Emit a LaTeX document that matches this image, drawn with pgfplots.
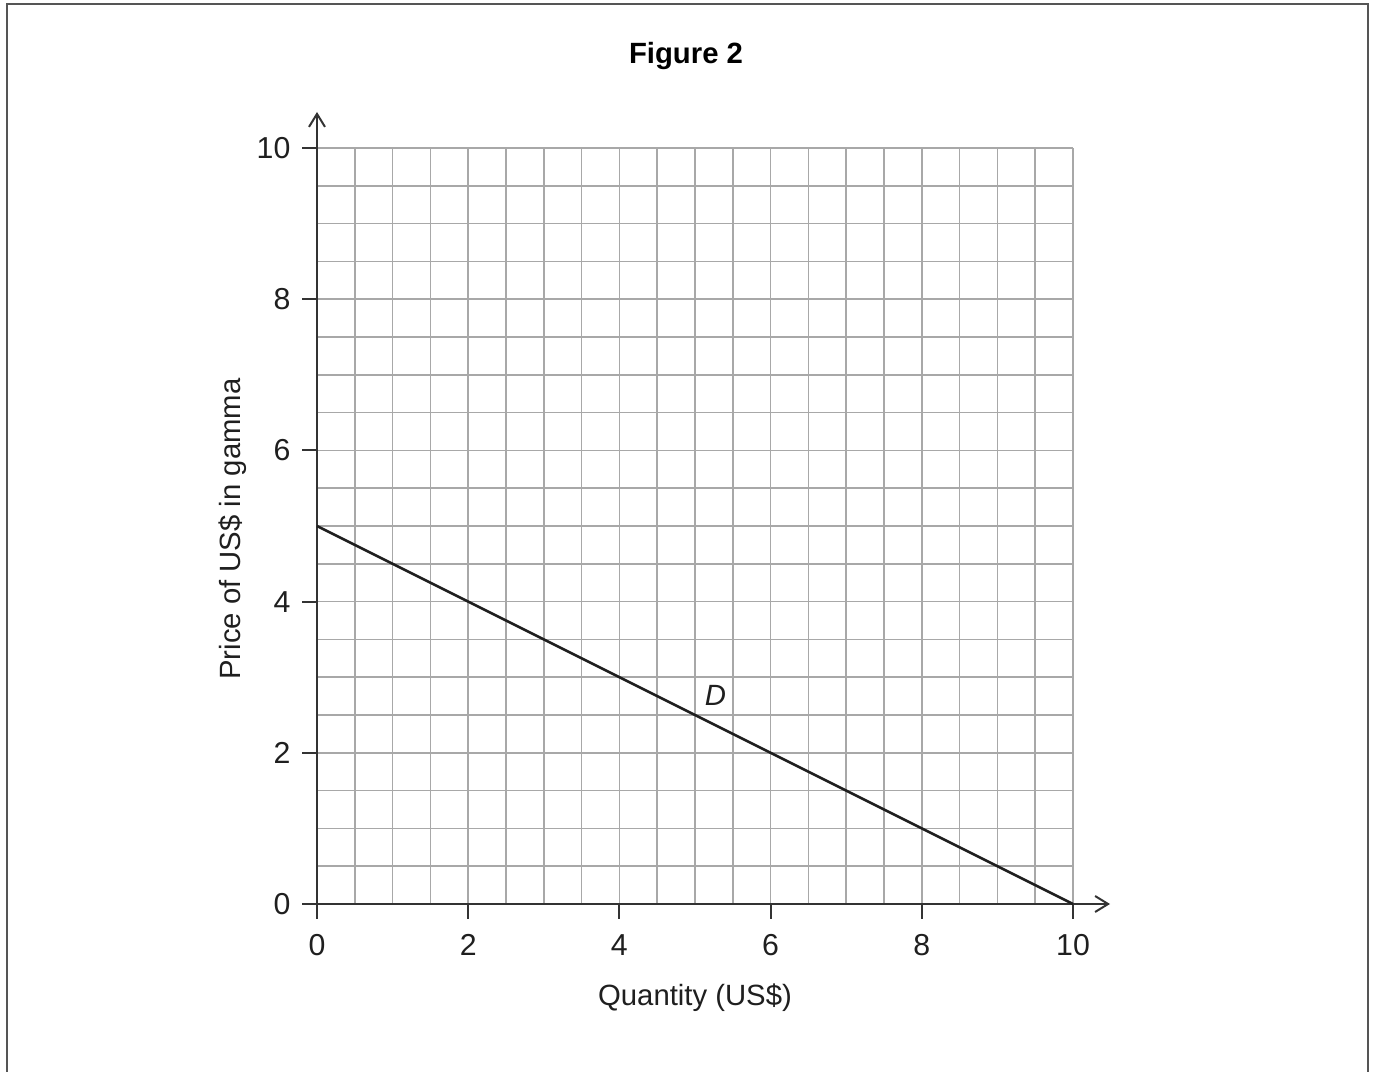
\documentclass[border=0pt]{standalone}
\usepackage{fontspec}
\setmainfont{Liberation Sans}
\usepackage{pgfplots}
\pgfplotsset{compat=1.18}
\usetikzlibrary{arrows.meta}
\definecolor{gridgray}{HTML}{A8A8A8}
\definecolor{axisgray}{HTML}{333333}
\definecolor{framegray}{HTML}{555555}
\newcommand{\lblfont}{\fontsize{14.7}{17}\selectfont}
\begin{document}
\begin{tikzpicture}
\useasboundingbox (0bp,0bp) rectangle (687.5bp,536bp);
\draw[framegray, line width=1bp] (3.5bp,-5bp) -- (3.5bp,534bp) -- (684bp,534bp) -- (684bp,-5bp);
\node[font=\lblfont\bfseries] at (343bp,508bp) {Figure 2};
\begin{axis}[
    at={(158.5bp,84bp)}, anchor=south west,
    x=37.8bp, y=37.8bp,
    xmin=0, xmax=10, ymin=0, ymax=10,
    xtick={0,2,...,10}, ytick={0,2,...,10},
    minor tick num=3,
    grid=both,
    major grid style={gridgray, line width=0.75bp},
    minor grid style={gridgray, line width=0.75bp},
    axis lines=left,
    x axis line style={axisgray, line width=1bp, shorten >=-18.5bp, -{Straight Barb[length=6.5bp, width=8bp]}},
    y axis line style={axisgray, line width=1bp, shorten >=-18bp, -{Straight Barb[length=6.5bp, width=8bp]}},
    tick align=outside,
    major tick length=7.5bp, minor tick length=0pt,
    tick style={axisgray, line width=1bp},
    /pgf/number format/assume math mode=true,
    ticklabel style={font=\fontsize{15.2}{17}\selectfont, text=black!88},
    xticklabel style={anchor=base, yshift=-18.3bp},
    yticklabel style={anchor=east, xshift=-2.3bp},
    label style={font=\lblfont, text=black!88},
    xlabel={Quantity (US\$)},
    ylabel={Price of US\$ in gamma},
    xlabel style={at={(axis description cs:0.5,-0.1243)}, anchor=center},
    ylabel style={at={(axis description cs:-0.111,0.496)}, anchor=center},
    clip=false,
]
\addplot[color=black!88, line width=1.25bp] coordinates {(0,5) (10,0)};
\node[font=\lblfont\itshape, text=black!88] at (axis cs:5.27,2.76) {D};
\end{axis}
\end{tikzpicture}
\end{document}
